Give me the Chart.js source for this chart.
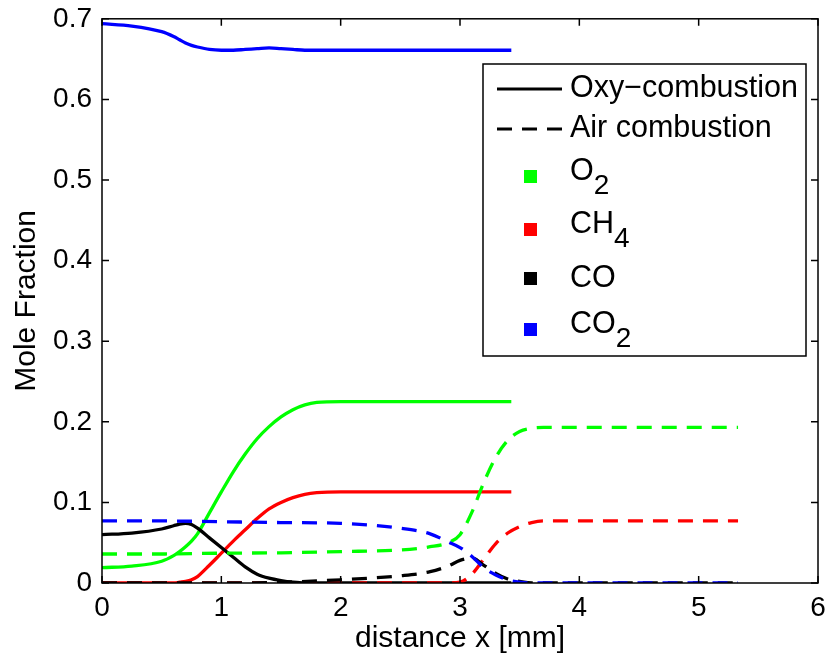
<!DOCTYPE html>
<html>
<head>
<meta charset="utf-8">
<script src="https://cdn.jsdelivr.net/npm/chart.js@4/dist/chart.umd.min.js"></script>
<style>
  body { margin: 0; background: #fff; }
  #wrap { width: 830px; height: 660px; }
</style>
</head>
<body>
<div id="wrap"><canvas id="myChart" width="830" height="660"></canvas></div>
<script>
// Oxy-combustion (solid lines)
const oxyX   = [0, 0.25, 0.5, 0.6, 0.65, 0.7, 0.75, 0.8, 0.9, 1.0, 1.1, 1.2, 1.3, 1.4, 1.5, 1.6, 1.7, 1.8, 2.0, 2.5, 3.0, 3.43];
const oxyO2  = [0.019, 0.021, 0.027, 0.034, 0.039, 0.045, 0.052, 0.061, 0.087, 0.113, 0.138, 0.160, 0.179, 0.194, 0.206, 0.215, 0.221, 0.224, 0.225, 0.225, 0.225, 0.225];
const oxyCH4 = [0, 0, 0, 0, 0.001, 0.002, 0.004, 0.008, 0.022, 0.037, 0.052, 0.066, 0.080, 0.092, 0.100, 0.106, 0.110, 0.112, 0.113, 0.113, 0.113, 0.113];
const oxyCO  = [0.060, 0.062, 0.067, 0.071, 0.073, 0.074, 0.0725, 0.068, 0.056, 0.044, 0.032, 0.020, 0.011, 0.006, 0.003, 0.001, 0, 0, 0, 0, 0, 0];
const oxyCO2 = [0.694, 0.691, 0.684, 0.678, 0.674, 0.670, 0.667, 0.665, 0.662, 0.661, 0.661, 0.662, 0.663, 0.664, 0.663, 0.662, 0.661, 0.661, 0.661, 0.661, 0.661, 0.661];

// Air combustion (dashed lines)
const airX   = [0, 0.5, 1.0, 1.5, 2.0, 2.5, 2.75, 2.9, 3.0, 3.1, 3.2, 3.3, 3.4, 3.5, 3.6, 3.7, 3.8, 4.0, 4.5, 5.0, 5.33];
const airO2  = [0.036, 0.036, 0.037, 0.0375, 0.039, 0.041, 0.045, 0.050, 0.060, 0.088, 0.125, 0.156, 0.177, 0.188, 0.192, 0.193, 0.193, 0.193, 0.193, 0.193, 0.193];
const airCH4 = [0, 0, 0, 0, 0, 0, 0, 0, 0.001, 0.011, 0.030, 0.049, 0.062, 0.070, 0.075, 0.077, 0.077, 0.077, 0.077, 0.077, 0.077];
const airCO  = [0, 0, 0, 0.001, 0.004, 0.009, 0.014, 0.021, 0.028, 0.031, 0.022, 0.012, 0.005, 0.002, 0, 0, 0, 0, 0, 0, 0];
const airCO2 = [0.077, 0.077, 0.076, 0.075, 0.074, 0.068, 0.061, 0.051, 0.044, 0.033, 0.019, 0.010, 0.004, 0.001, 0, 0, 0, 0, 0, 0, 0];

const speciesBase = ['O', 'CH', 'CO', 'CO'];
const speciesSub = ['2', '4', '', '2'];
const speciesColors = ['#00ff00', '#ff0000', '#000000', '#0000ff'];
const styleNames = ['Oxy\u2212combustion', 'Air combustion'];

const xTicks = [0, 1, 2, 3, 4, 5, 6];
const yTicks = [0, 0.1, 0.2, 0.3, 0.4, 0.5, 0.6, 0.7];

const FONT = "'Liberation Sans', Arial, Helvetica, sans-serif";
const DASH = [15, 10];

function pts(xs, ys) {
  return xs.map((x, i) => ({ x: x, y: ys[i] }));
}

const series = [
  [oxyX, oxyO2, 0, false], [oxyX, oxyCH4, 1, false], [oxyX, oxyCO, 2, false], [oxyX, oxyCO2, 3, false],
  [airX, airO2, 0, true], [airX, airCH4, 1, true], [airX, airCO, 2, true], [airX, airCO2, 3, true]
];

const datasets = series.map((s, i) => ({
  label: (s[3] ? 'Air ' : 'Oxy ') + speciesBase[s[2]] + speciesSub[s[2]],
  data: pts(s[0], s[1]),
  borderColor: speciesColors[s[2]],
  borderWidth: 3.3,
  borderDash: s[3] ? DASH : [],
  pointRadius: 0,
  fill: false,
  cubicInterpolationMode: 'monotone',
  order: series.length - 1 - i
}));

// MATLAB style box with inward ticks on every side
const framePlugin = {
  id: 'frame',
  afterDatasetsDraw(chart) {
    const { ctx, chartArea: a, scales } = chart;
    ctx.save();
    ctx.strokeStyle = '#000';
    ctx.lineWidth = 1.5;
    ctx.setLineDash([]);
    ctx.strokeRect(a.left, a.top, a.right - a.left, a.bottom - a.top);
    const t = 7;
    ctx.beginPath();
    xTicks.forEach(v => {
      const px = scales.x.getPixelForValue(v);
      ctx.moveTo(px, a.bottom); ctx.lineTo(px, a.bottom - t);
      ctx.moveTo(px, a.top); ctx.lineTo(px, a.top + t);
    });
    yTicks.forEach(v => {
      const py = scales.y.getPixelForValue(v);
      ctx.moveTo(a.left, py); ctx.lineTo(a.left + t, py);
      ctx.moveTo(a.right, py); ctx.lineTo(a.right - t, py);
    });
    ctx.stroke();
    ctx.restore();
  }
};

// legend box in the upper right, as in the original figure
const legendPlugin = {
  id: 'matlabLegend',
  afterDraw(chart) {
    const ctx = chart.ctx;
    const box = { left: 483, top: 64, right: 806, bottom: 356 };
    ctx.save();
    ctx.fillStyle = '#fff';
    ctx.fillRect(box.left, box.top, box.right - box.left, box.bottom - box.top);
    ctx.strokeStyle = '#000';
    ctx.lineWidth = 1.5;
    ctx.strokeRect(box.left, box.top, box.right - box.left, box.bottom - box.top);

    ctx.textBaseline = 'middle';
    ctx.textAlign = 'left';
    ctx.font = '30.5px ' + FONT;
    ctx.fillStyle = '#000';
    const textX = 570;
    const styleRows = [89, 129];
    styleNames.forEach((name, i) => {
      ctx.beginPath();
      ctx.lineWidth = 3;
      ctx.setLineDash(i === 1 ? DASH : []);
      ctx.moveTo(497, styleRows[i]);
      ctx.lineTo(562, styleRows[i]);
      ctx.stroke();
      ctx.fillText(name, textX, styleRows[i]);
    });
    ctx.setLineDash([]);

    const speciesRows = [172, 225, 279, 325];
    speciesBase.forEach((base, i) => {
      const y = speciesRows[i];
      ctx.fillStyle = speciesColors[i];
      ctx.fillRect(524, y - 7 + (speciesSub[i] ? 5 : 0), 13, 13);
      ctx.fillStyle = '#000';
      ctx.font = '30.5px ' + FONT;
      ctx.fillText(base, textX, y);
      if (speciesSub[i]) {
        const w = ctx.measureText(base).width;
        ctx.font = '28px ' + FONT;
        ctx.fillText(speciesSub[i], textX + w, y + 14);
      }
    });
    ctx.restore();
  }
};

const tickFont = { family: FONT, size: 28 };
const titleFont = { family: FONT, size: 30 };

new Chart(document.getElementById('myChart').getContext('2d'), {
  type: 'line',
  data: { datasets: datasets },
  options: {
    responsive: false,
    animation: false,
    layout: { padding: { top: 11, right: 12, left: 0, bottom: 0 } },
    plugins: { legend: { display: false }, tooltip: { enabled: false } },
    scales: {
      x: {
        type: 'linear',
        min: 0,
        max: 6,
        afterFit(scale) { scale.height = 77; },
        afterBuildTicks(scale) { scale.ticks = xTicks.map(v => ({ value: v })); },
        grid: { display: false },
        border: { display: false },
        ticks: { font: tickFont, color: '#000', padding: 0, maxRotation: 0,
                 callback: v => String(v) },
        title: { display: true, text: 'distance x [mm]', font: titleFont, color: '#000',
                 padding: { top: 0, bottom: 3 } }
      },
      y: {
        min: 0,
        max: 0.7,
        afterFit(scale) { scale.width = 102; },
        afterBuildTicks(scale) { scale.ticks = yTicks.map(v => ({ value: v })); },
        grid: { display: false },
        border: { display: false },
        ticks: { font: tickFont, color: '#000', padding: 2,
                 callback: v => String(Number(v.toFixed(1))) },
        title: { display: true, text: 'Mole Fraction', font: titleFont, color: '#000',
                 padding: { top: 9, bottom: 0 } }
      }
    }
  },
  plugins: [framePlugin, legendPlugin]
});
</script>
</body>
</html>
